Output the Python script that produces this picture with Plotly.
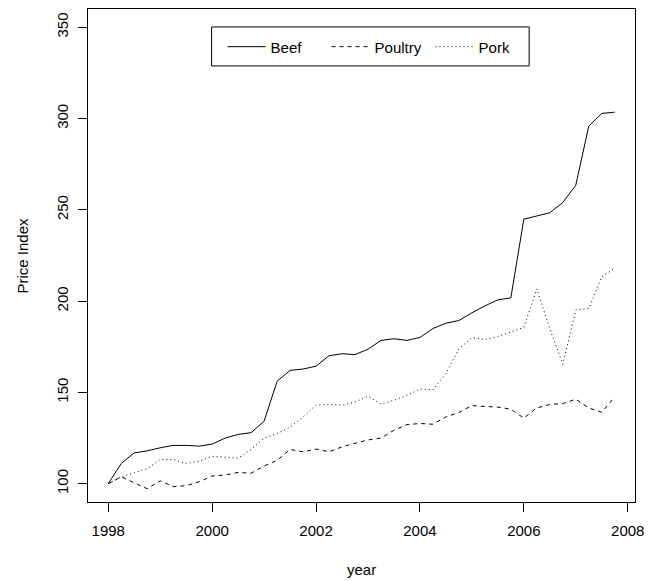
import plotly.graph_objects as go

# quarterly time index
year = [1998.00, 1998.25, 1998.50, 1998.75, 1999.00, 1999.25, 1999.50, 1999.75,
        2000.00, 2000.25, 2000.50, 2000.75, 2001.00, 2001.25, 2001.50, 2001.75,
        2002.00, 2002.25, 2002.50, 2002.75, 2003.00, 2003.25, 2003.50, 2003.75,
        2004.00, 2004.25, 2004.50, 2004.75, 2005.00, 2005.25, 2005.50, 2005.75,
        2006.00, 2006.25, 2006.50, 2006.75, 2007.00, 2007.25, 2007.50, 2007.75]

beef = [100, 111.1, 116.9, 118, 119.7, 121, 121, 120.6, 121.7, 125, 127, 128,
        134.2, 156.1, 162.1, 162.8, 164.4, 170.1, 171.2, 170.7, 173.7, 178.5,
        179.4, 178.5, 180.1, 185, 187.9, 189.4, 193.6, 197.4, 200.7, 201.8,
        244.9, 246.8, 248.4, 254, 263.5, 295.9, 302.8, 303.5]

poultry = [100, 103.8, 100.5, 97.3, 101.6, 98.4, 98.9, 101.1, 104.2, 104.8,
           106.2, 105.8, 109.7, 112.8, 118.8, 117.5, 119, 117.5, 120.2, 122,
           124, 125, 129.3, 132.4, 133, 132.6, 136.6, 139, 142.8, 142.3, 142,
           140.8, 136, 141.5, 143.4, 143.9, 146.3, 141.5, 139.2, 147.5]

pork = [100, 103.8, 106, 108.2, 113.3, 113.3, 111.1, 112.4, 115, 114.4, 114,
        118.8, 125, 127.5, 131, 136.6, 143, 143.5, 143, 144.8, 147.9, 143.7,
        145.7, 148.4, 151.9, 151.5, 160.3, 173.9, 180, 179, 180.7, 183, 185.7,
        206.7, 184.9, 165.4, 195.2, 196, 213.4, 218]

series_names = ["Beef", "Poultry", "Pork"]
x_ticks = [1998, 2000, 2002, 2004, 2006, 2008]
y_ticks = [100, 150, 200, 250, 300, 350]

FONT = "Liberation Sans, Arial, Helvetica, sans-serif"

fig = go.Figure()
styles = [("solid", "#000000"), ("4px,4px", "#000000"), ("1px,3px", "#000000")]
for name, vals, (dash, col) in zip(series_names, [beef, poultry, pork], styles):
    fig.add_trace(go.Scatter(x=year, y=vals, mode="lines", name=name,
                             line=dict(color=col, width=1, dash=dash)))

W, H = 652, 581
ML, MR, MT, MB = 88, 11, 8, 79

axis_common = dict(showline=True, linecolor="black", linewidth=1, mirror=True,
                   ticks="outside", ticklen=9, tickcolor="black", tickwidth=1,
                   showgrid=False, zeroline=False,
                   tickfont=dict(family=FONT, size=15, color="black"))

fig.update_layout(
    width=W, height=H,
    margin=dict(l=ML, r=MR, t=MT, b=MB),
    paper_bgcolor="white", plot_bgcolor="white",
    font=dict(family=FONT, size=15, color="black"),
    xaxis=dict(range=[1997.61, 2008.14], tickvals=x_ticks,
               ticklabelstandoff=6, **axis_common),
    yaxis=dict(range=[90, 360], tickvals=y_ticks, tickangle=-90,
               ticklabelstandoff=4, **axis_common),
    showlegend=True,
    legend=dict(orientation="h", x=0.246, xanchor="left", y=0.9231, yanchor="middle",
                bgcolor="rgba(0,0,0,0)", borderwidth=0, entrywidth=51, itemwidth=38,
                font=dict(family=FONT, size=15, color="black")),
    shapes=[dict(type="rect", xref="paper", yref="paper",
                 x0=0.226, x1=0.8065, y0=0.8846, y1=0.9636,
                 line=dict(color="black", width=1), fillcolor="rgba(0,0,0,0)")],
    annotations=[
        dict(text="year", xref="paper", yref="paper", x=0.5, y=0, xanchor="center",
             yanchor="middle", yshift=-67, showarrow=False,
             font=dict(family=FONT, size=15, color="black")),
        dict(text="Price Index", xref="paper", yref="paper", x=0, y=0.5,
             xanchor="center", yanchor="middle", xshift=-66, textangle=-90,
             showarrow=False, font=dict(family=FONT, size=15, color="black")),
    ],
)

fig.write_html("out.html",
               config={"displayModeBar": False},
               post_script="document.body.style.margin='0px';"
                           "document.body.style.overflow='hidden';")
